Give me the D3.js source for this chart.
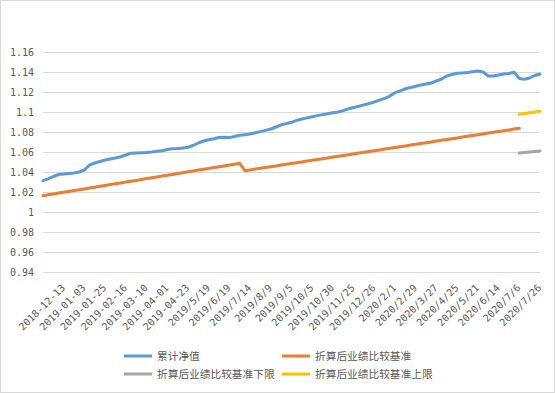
<!DOCTYPE html>
<html>
<head>
<meta charset="utf-8">
<script src="https://cdn.jsdelivr.net/npm/d3@7"></script>
<style>
  html, body { margin: 0; padding: 0; background: #fff; }
  svg { display: block; }
</style>
</head>
<body>
<svg id="chart" width="555" height="393"></svg>
<script>
// ---- data ----
const tickLabels = ["2018-12-13","2019-01-03","2019-01-25","2019-02-16","2019-03-10","2019-04-01","2019-04-23",
  "2019/5/19","2019/6/19","2019/7/14","2019/8/9","2019/9/5","2019/10/5","2019/10/30","2019/11/25","2019/12/26",
  "2020/2/1","2020/2/29","2020/3/27","2020/4/25","2020/5/21","2020/6/14","2020/7/6","2020/7/26"];
const tickIndex = [4,8,12,16,20,24,28,32,36,40,44,48,52,56,60,64,68,72,76,80,84,88,92,96];

const yTicks = [0.94,0.96,0.98,1,1.02,1.04,1.06,1.08,1.1,1.12,1.14,1.16];

// 累计净值 (index 0..96)
const navValues = [1.0313,1.0332,1.0355,1.0375,1.038,1.0385,1.039,1.040,1.042,1.047,
  1.049,1.0505,1.052,1.053,1.054,1.0553,1.057,1.0588,1.059,1.0592,
  1.0595,1.060,1.0607,1.0613,1.0625,1.0632,1.0635,1.064,1.0648,1.0665,
  1.069,1.071,1.0723,1.0732,1.0745,1.0747,1.0744,1.0755,1.0767,1.0773,
  1.078,1.0792,1.0804,1.0816,1.083,1.085,1.0872,1.0884,1.0897,1.0916,
  1.093,1.0941,1.0952,1.0964,1.0974,1.0983,1.0992,1.100,1.1014,1.1032,
  1.1045,1.1057,1.1071,1.1085,1.110,1.1118,1.1137,1.1159,1.1193,1.1212,
  1.1232,1.1245,1.1258,1.1271,1.128,1.129,1.1312,1.133,1.136,1.1375,
  1.1387,1.139,1.1394,1.1402,1.141,1.140,1.136,1.136,1.137,1.138,
  1.1385,1.1397,1.1335,1.1327,1.134,1.1365,1.138];

// 折算后业绩比较基准 (index 0..92)
const benchValues = [1.0163,1.0172,1.0180,1.0189,1.0197,1.0206,1.0214,1.0223,1.0231,1.0240,
  1.0248,1.0257,1.0265,1.0274,1.0282,1.0291,1.0299,1.0308,1.0316,1.0325,
  1.0334,1.0342,1.0351,1.0359,1.0368,1.0376,1.0385,1.0393,1.0402,1.0410,
  1.0419,1.0427,1.0436,1.0444,1.0453,1.0461,1.0470,1.0478,1.0487,1.0413,
  1.0421,1.0429,1.0437,1.0445,1.0453,1.0461,1.0469,1.0477,1.0485,1.0493,
  1.0501,1.0509,1.0517,1.0525,1.0533,1.0541,1.0549,1.0557,1.0565,1.0573,
  1.0581,1.0589,1.0597,1.0605,1.0613,1.0621,1.0629,1.0637,1.0645,1.0653,
  1.0661,1.0669,1.0677,1.0685,1.0693,1.0701,1.0709,1.0717,1.0725,1.0733,
  1.0741,1.0749,1.0757,1.0765,1.0773,1.0781,1.0789,1.0797,1.0805,1.0813,
  1.0821,1.0829,1.0837];

// 下限 / 上限 (index 92..96)
const rangeStart = 92;
const lowerValues = [1.059,1.0595,1.060,1.0605,1.061];
const upperValues = [1.0977,1.0985,1.0992,1.100,1.1007];

const seriesNames = ["累计净值","折算后业绩比较基准","折算后业绩比较基准下限","折算后业绩比较基准上限"];
const seriesColors = ["#5B9BD5","#ED7D31","#A5A5A5","#FFC000"];

// ---- drawing ----
const svg = d3.select("#chart");
const W = 555, H = 393;

svg.append("rect").attr("x",0.5).attr("y",0.5).attr("width",W-1).attr("height",H-1)
  .attr("fill","#fff").attr("stroke","#D9D9D9");

const x = d3.scaleLinear().domain([0,96]).range([43,540]);
const y = d3.scaleLinear().domain([0.94,1.16]).range([272,52]);

// gridlines
const yAxis = d3.axisLeft(y).tickValues(yTicks).tickSize(-(540-43)).tickPadding(9)
  .tickFormat(d => d3.format("")(+d.toFixed(2)));
const gy = svg.append("g").attr("transform","translate(43,0)").call(yAxis);
gy.select(".domain").remove();
gy.selectAll(".tick line").attr("stroke","#D9D9D9").attr("stroke-width",1)
  .attr("shape-rendering","crispEdges");
gy.selectAll(".tick text").attr("fill","#595959")
  .style("font-family","'DejaVu Sans Mono', 'Liberation Mono', monospace").style("font-size","10px");

// x labels
const xAxis = d3.axisBottom(x).tickValues(tickIndex).tickSize(0)
  .tickFormat((d,i) => tickLabels[i]);
const gx = svg.append("g").attr("transform","translate(0,272)").call(xAxis);
gx.select(".domain").remove();
gx.selectAll(".tick text")
  .attr("fill","#595959")
  .style("font-family","'DejaVu Sans Mono', 'Liberation Mono', monospace").style("font-size","10px")
  .attr("text-anchor","end")
  .attr("x",0).attr("y",0).attr("dy","0.35em")
  .attr("transform","translate(-1,14) rotate(-45)");

// lines
const line = d3.line().x(d => x(d[0])).y(d => y(d[1]));
const navPts = navValues.map((v,i) => [i,v]);
const benchPts = benchValues.map((v,i) => [i,v]);
const lowerPts = lowerValues.map((v,i) => [rangeStart+i,v]);
const upperPts = upperValues.map((v,i) => [rangeStart+i,v]);

[[lowerPts,2],[upperPts,3],[benchPts,1],[navPts,0]].forEach(([pts,ci]) => {
  svg.append("path").datum(pts).attr("d",line)
    .attr("fill","none").attr("stroke",seriesColors[ci])
    .attr("stroke-width",3).attr("stroke-linejoin","round").attr("stroke-linecap","round");
});

// legend
const legendPos = [[124,356],[282,356],[124,374],[282,374]];
seriesNames.forEach((name,i) => {
  const [lx,ly] = legendPos[i];
  svg.append("line").attr("x1",lx).attr("x2",lx+28).attr("y1",ly).attr("y2",ly)
    .attr("stroke",seriesColors[i]).attr("stroke-width",3);
  svg.append("text").attr("x",lx+33).attr("y",ly).attr("dy","0.36em")
    .attr("fill","#595959")
    .style("font-family","'Noto Sans CJK SC', sans-serif").style("font-size","10.7px")
    .text(name);
});
</script>
</body>
</html>
